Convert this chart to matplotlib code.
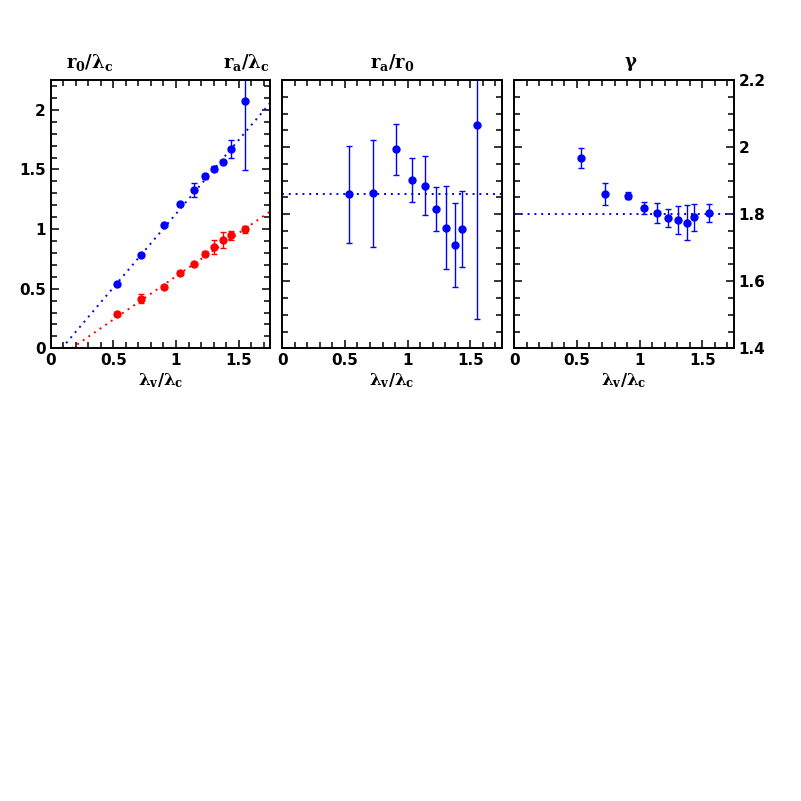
import matplotlib
matplotlib.use("Agg")
import matplotlib.pyplot as plt
from matplotlib.ticker import MultipleLocator

plt.rcParams['font.family'] = ['DejaVu Sans']
plt.rcParams['mathtext.fontset'] = 'dejavuserif'

# common x positions (lambda_v / lambda_c)
lam = [0.53, 0.72, 0.905, 1.035, 1.14, 1.23, 1.305, 1.375, 1.435, 1.55]

# left panel: r0 (blue) and ra (red) in units of lambda_c
r0 = [0.537, 0.786, 1.038, 1.206, 1.329, 1.441, 1.505, 1.564, 1.670, 2.076]
r0_err = [0.012, 0.012, 0.012, 0.012, 0.056, 0.02, 0.022, 0.016, 0.077, 0.58]
ra = [0.285, 0.414, 0.517, 0.632, 0.705, 0.794, 0.850, 0.909, 0.948, 0.999]
ra_err = [0.018, 0.038, 0.015, 0.015, 0.015, 0.02, 0.06, 0.064, 0.038, 0.028]

# linear fits: slope, x-intercept
fit_r0 = (1.237, 0.088)
fit_ra = (0.7245, 0.167)

# middle panel: ra / r0
ratio = [1.859, 1.862, 1.993, 1.901, 1.885, 1.815, 1.760, 1.707, 1.755, 2.066]
ratio_err = [0.145, 0.159, 0.077, 0.065, 0.087, 0.066, 0.123, 0.125, 0.113, 0.58]
ratio_mean = 1.86

# right panel: gamma
gamma = [1.968, 1.860, 1.855, 1.818, 1.803, 1.788, 1.783, 1.775, 1.791, 1.803]
gamma_err = [0.030, 0.032, 0.011, 0.018, 0.029, 0.027, 0.042, 0.052, 0.040, 0.026]
gamma_ref = 1.8

xticks = [0, 0.5, 1, 1.5]
xtick_labels = ['0', '0.5', '1', '1.5']
yticks_left = [0, 0.5, 1, 1.5, 2]
ytick_labels_left = ['0', '0.5', '1', '1.5', '2']
yticks_right = [1.4, 1.6, 1.8, 2.0, 2.2]
ytick_labels_right = ['1.4', '1.6', '1.8', '2', '2.2']

fig = plt.figure(figsize=(8.01, 8.01), dpi=100)
W, H = 801.0, 801.0
bot, top = 348.3, 80.0
lefts = [50.7, 282.3, 514.3]
aw = 219.3
axes = [fig.add_axes([l / W, 1 - bot / H, aw / W, (bot - top) / H]) for l in lefts]

def style(ax, yticks, ylabels, ymin):
    ax.set_xlim(0, 1.75)
    ax.set_xticks(xticks, xtick_labels, fontweight='bold')
    ax.xaxis.set_minor_locator(MultipleLocator(0.1))
    ax.set_yticks(yticks, ylabels, fontweight='bold')
    ax.yaxis.set_minor_locator(MultipleLocator(ymin))
    ax.tick_params(which='both', direction='in', top=True, right=True, width=1.1, labelsize=11)
    ax.tick_params(which='major', length=6)
    ax.tick_params(which='minor', length=4)
    for s in ax.spines.values():
        s.set_linewidth(1.4)
    ax.set_xlabel(r'$\mathbf{\lambda_v/\lambda_c}$', fontsize=12, labelpad=2)

eb = dict(fmt='o', ms=5, capsize=2, elinewidth=1, capthick=1)

# left
ax = axes[0]
style(ax, yticks_left, ytick_labels_left, 0.1)
ax.set_ylim(0, 2.25)
for (k, x0), c in [(fit_r0, 'blue'), (fit_ra, 'red')]:
    ax.plot([x0, 1.75], [0, k * (1.75 - x0)], color=c, ls=(0, (1, 2.5)), lw=1.4)
ax.errorbar(lam, r0, yerr=r0_err, color='blue', **eb)
ax.errorbar(lam, ra, yerr=ra_err, color='red', **eb)
ax.text(0.07, 1.025, r'$\mathbf{r_0/\lambda_c}$', transform=ax.transAxes, fontsize=13, ha='left', va='bottom')
ax.text(1.0, 1.025, r'$\mathbf{r_a/\lambda_c}$', transform=ax.transAxes, fontsize=13, ha='right', va='bottom')

# middle
ax = axes[1]
style(ax, yticks_right, ytick_labels_right, 0.05)
ax.set_ylim(1.4, 2.2)
ax.tick_params(axis='y', labelleft=False)
ax.axhline(ratio_mean, color='blue', ls=(0, (1, 2.5)), lw=1.4)
ax.errorbar(lam, ratio, yerr=ratio_err, color='blue', **eb)
ax.text(0.5, 1.025, r'$\mathbf{r_a/r_0}$', transform=ax.transAxes, fontsize=13, ha='center', va='bottom')

# right
ax = axes[2]
style(ax, yticks_right, ytick_labels_right, 0.05)
ax.set_ylim(1.4, 2.2)
ax.tick_params(axis='y', labelleft=False, labelright=True)
ax.axhline(gamma_ref, color='blue', ls=(0, (1, 2.5)), lw=1.4)
ax.errorbar(lam, gamma, yerr=gamma_err, color='blue', **eb)
ax.text(0.53, 1.025, r'$\mathbf{\gamma}$', transform=ax.transAxes, fontsize=13, ha='center', va='bottom')

fig.savefig('out.png', dpi=100)
